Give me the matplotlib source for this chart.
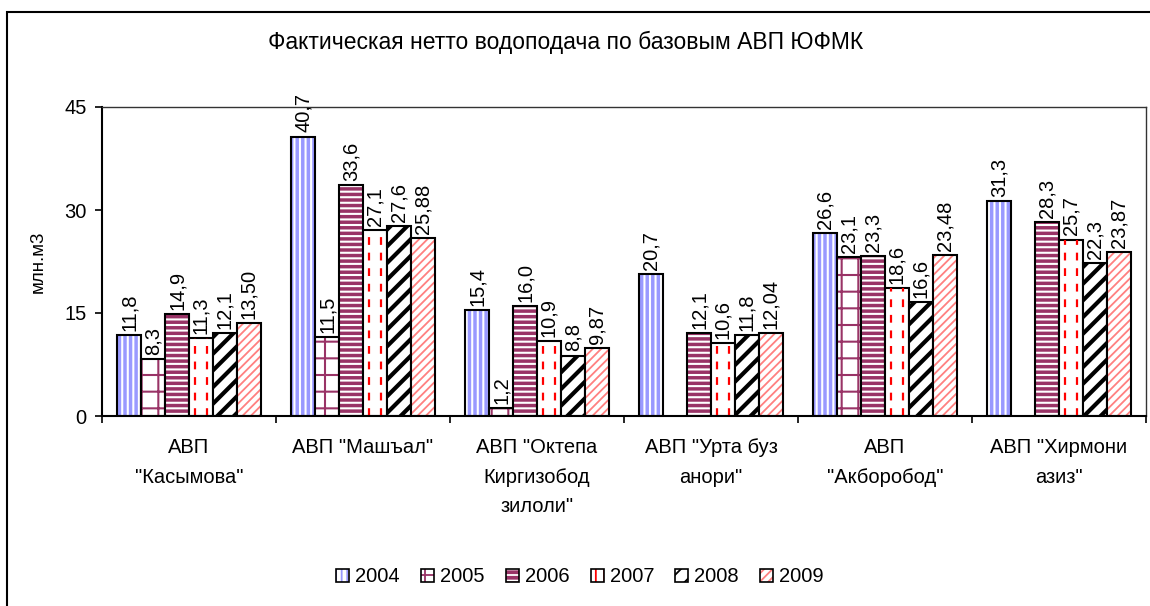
import numpy as np
import matplotlib
matplotlib.use("Agg")
import matplotlib.pyplot as plt
from matplotlib.patches import Rectangle, Patch
from matplotlib.legend_handler import HandlerTuple

plt.rcParams['font.family'] = ['Liberation Sans', 'DejaVu Sans']

# data
categories = ['АВП\n"Касымова"', 'АВП "Машъал"', 'АВП "Октепа\nКиргизобод\nзилоли"',
              'АВП "Урта буз\nанори"', 'АВП\n"Акборобод"', 'АВП "Хирмони\nазиз"']
years = ['2004', '2005', '2006', '2007', '2008', '2009']
v2004 = [11.8, 40.7, 15.4, 20.7, 26.6, 31.3]
v2005 = [8.3, 11.5, 1.2, None, 23.1, None]
v2006 = [14.9, 33.6, 16.0, 12.1, 23.3, 28.3]
v2007 = [11.3, 27.1, 10.9, 10.6, 18.6, 25.7]
v2008 = [12.1, 27.6, 8.8, 11.8, 16.6, 22.3]
v2009 = [13.50, 25.88, 9.87, 12.04, 23.48, 23.87]
series = [v2004, v2005, v2006, v2007, v2008, v2009]
decimals = [1, 1, 1, 1, 1, 2]

# style per series: facecolor, hatch, hatch color, hatch linewidth
styles = [
    ('white', '|||', '#9999FF', 2.5),
    ('white', '+', '#993366', 1.5),
    ('#993366', '---', 'white', 1.5),
    ('white', '', '#FF0000', 1.5),
    ('white', '//', 'black', 3.0),
    ('white', '////', '#FF8080', 1.3),
]

FS = 14.5

fig = plt.figure(figsize=(11.5, 6.06), dpi=100)
ax = fig.add_axes([102 / 1150, 1 - 416 / 606, (1146 - 102) / 1150, (416 - 107) / 606])

n = len(categories)
w = 0.137
x = np.arange(n) + 0.5
handles = []
for i, (vals, (fc, hatch, hc, hlw)) in enumerate(zip(series, styles)):
    pos = x + (i - 2.5) * w
    h = np.array([np.nan if v is None else v for v in vals])
    plt.rcParams['hatch.linewidth'] = hlw
    ax.bar(pos, h, w, color=fc, hatch=hatch, edgecolor=hc, linewidth=0)
    if years[i] == '2007':
        # red dashed stripes
        for off in (-w / 4, w / 4):
            ax.vlines(pos + off, 0, h, colors=hc, linestyles=(0, (3.5, 3.5)), linewidth=1.6)
    ax.bar(pos, h, w, fill=False, edgecolor='black', linewidth=1.5)
    handles.append((Patch(facecolor=fc, hatch=hatch if hatch else '||', edgecolor=hc, linewidth=0),
                    Patch(fill=False, edgecolor='black', linewidth=1.2)))
    for p, v in zip(pos, vals):
        if v is None:
            continue
        lab = f"{v:.{decimals[i]}f}".replace('.', ',')
        ax.annotate(lab, (p, v), xytext=(0, 3), textcoords='offset points',
                    rotation=90, ha='center', va='bottom', fontsize=FS)

ax.set_xlim(0, n)
ax.set_ylim(0, 45)
ax.set_yticks([0, 15, 30, 45])
ax.tick_params(axis='y', labelsize=FS, direction='out', length=5, width=1.2, pad=6)
ax.set_xticks(np.arange(n + 1))
ax.set_xticklabels([])
ax.set_xticks(x, minor=True)
ax.set_xticklabels(categories, minor=True, fontsize=FS, linespacing=1.7, va='top')
ax.tick_params(axis='x', which='major', direction='out', length=5, width=1.2)
ax.tick_params(axis='x', which='minor', length=0, pad=16)
for s in ['left', 'bottom']:
    ax.spines[s].set_linewidth(1.5)
for s in ['top', 'right']:
    ax.spines[s].set_linewidth(1.0)
    ax.spines[s].set_color('#333333')

fig.text(38 / 1150, 1 - 262 / 606, 'млн.м3', rotation=90, ha='center', va='center',
         fontsize=13.5)
fig.text(566 / 1150, 1 - 42 / 606, 'Фактическая нетто водоподача по базовым АВП ЮФМК',
         ha='center', va='center', fontsize=16.5)

fig.legend(handles, years, loc='center', bbox_to_anchor=(580 / 1150, 1 - 577 / 606),
           ncol=6, frameon=False, fontsize=FS, handlelength=0.65, handleheight=0.65,
           handletextpad=0.3, columnspacing=1.05,
           handler_map={tuple: HandlerTuple(ndivide=1, pad=0)})

fig.patches.append(Rectangle((7 / 1150, -0.05), 1.1, 1.05 - 12 / 606,
                             transform=fig.transFigure, fill=False,
                             edgecolor='black', linewidth=1.5))

fig.savefig('out.png', dpi=100)
